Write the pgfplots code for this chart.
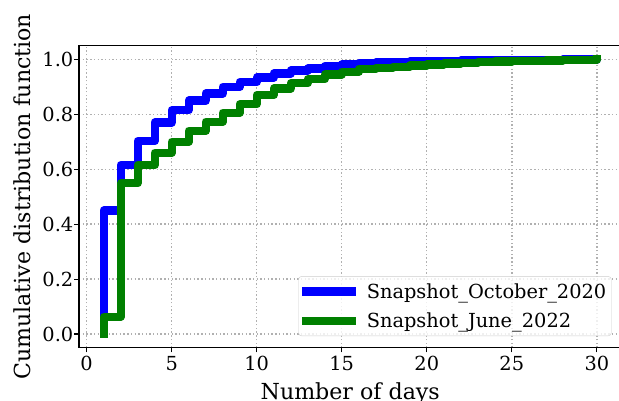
\documentclass[border=0pt]{standalone}
\usepackage{fontspec}
\setmainfont{DejaVu Serif}
\usepackage{pgfplots}
\pgfplotsset{compat=1.18}
\definecolor{mplgreen}{RGB}{0,128,0}
\definecolor{mplblue}{RGB}{0,0,255}
\definecolor{gridgray}{RGB}{176,176,176}
\begin{document}
\begin{tikzpicture}
\begin{axis}[
  at={(79bp,53.3bp)}, anchor=south west,
  scale only axis, width=542.5bp, height=302bp,
  xmin=-0.45, xmax=31.45, ymin=-0.05, ymax=1.05,
  xtick={0,5,10,15,20,25,30},
  ytick={0,0.2,0.4,0.6,0.8,1.0},
  /pgf/number format/assume math mode=true,
  yticklabel style={/pgf/number format/fixed,/pgf/number format/fixed zerofill,/pgf/number format/precision=1, xshift=2.5bp},
  tick label style={font=\fontsize{19.44}{23}\selectfont, text=black},
  tick align=outside, major tick length=4.7bp,
  tick style={line width=1.1bp, black},
  xtick pos=bottom, ytick pos=left,
  axis line style={line width=1.1bp, black},
  grid=major,
  major grid style={gridgray, line width=1.4bp, dash pattern=on 1.4bp off 2.3bp},
  xlabel={Number of days},
  ylabel={Cumulative distribution function},
  every axis x label/.style={at={(axis description cs:0.5,0)}, anchor=base, yshift=-51.5bp, font=\fontsize{22.2}{26}\selectfont},
  every axis y label/.style={at={(axis description cs:-0.105,0.5)}, rotate=90, anchor=center, font=\fontsize{22.2}{26}\selectfont},
  legend style={at={(rel axis cs:0.9815,0.0387)}, anchor=south east,
    draw=black!20, rounded corners=3bp, fill=white, fill opacity=0.8, text opacity=1,
    font=\fontsize{19.44}{23}\selectfont, row sep=9bp, inner xsep=3bp, inner ysep=5bp,
    /tikz/every odd column/.append style={column sep=9bp}},
  legend cell align=left,
  legend image code/.code={\draw[#1] (0bp,0bp) -- (46bp,0bp);},
]
\addplot[const plot mark left, mplblue, line width=8.3bp, line join=round, line cap=rect] coordinates {
(1,0) (1,0.45) (2,0.615) (3,0.703) (4,0.77) (5,0.815) (6,0.85) (7,0.876) (8,0.90) (9,0.918) (10,0.934)
(11,0.949) (12,0.960) (13,0.967) (14,0.976) (15,0.982) (16,0.987) (17,0.989) (18,0.991) (19,0.993) (20,0.994)
(21,0.995) (22,0.996) (23,0.997) (24,0.9975) (25,0.998) (26,0.9985) (27,0.999) (28,0.9993) (29,0.9996) (30,1.0)
};
\addlegendentry{Snapshot\_October\_2020}
\addplot[const plot mark left, mplgreen, line width=8.3bp, line join=round, line cap=rect] coordinates {
(1,0) (1,0.063) (2,0.549) (3,0.615) (4,0.66) (5,0.70) (6,0.74) (7,0.773) (8,0.806) (9,0.837) (10,0.870)
(11,0.894) (12,0.913) (13,0.928) (14,0.945) (15,0.955) (16,0.965) (17,0.969) (18,0.973) (19,0.978) (20,0.982)
(21,0.985) (22,0.987) (23,0.99) (24,0.992) (25,0.994) (26,0.995) (27,0.996) (28,0.998) (29,0.999) (30,1.0)
};
\addlegendentry{Snapshot\_June\_2022}
\end{axis}
\pgfresetboundingbox
\path[use as bounding box] (0bp,0bp) rectangle (619bp,401bp);
\end{tikzpicture}
\end{document}
